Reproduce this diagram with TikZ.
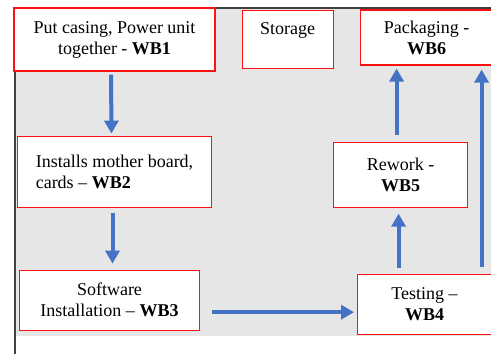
\documentclass[tikz,border=0pt]{standalone}
\usepackage{fontspec}
\setmainfont{Liberation Serif}
\usepackage{tikz}
\usepackage{xcolor}
\usetikzlibrary{arrows.meta, positioning}
\definecolor{flowblue}{HTML}{4472C4}
\definecolor{panelgray}{HTML}{E6E6E6}
\definecolor{framegray}{HTML}{404040}
\definecolor{boxred}{HTML}{FF1010}
\tikzstyle{station} = [rectangle, draw=boxred, fill=white, line width=1.1pt, inner sep=0pt, align=center, font=\fontsize{18}{21}\selectfont]
\tikzstyle{arrow} = [draw=flowblue, line width=4pt, -{Triangle[width=14pt, length=13pt]}]

\begin{document}
\begin{tikzpicture}[x=1pt, y=1pt]

            \useasboundingbox (0,0) rectangle (491,354);
            % Background
            \fill [panelgray] (14,18) rectangle (491,346);
            \draw [framegray, line width=2pt] (14,346) -- (491,346);
            \draw [framegray, line width=1.2pt] (15,0) -- (15,346);

            % Nodes
            \node (wb1) [station, minimum width=201pt, minimum height=63pt] at (114.5,314.5) {Put casing, Power unit\\together - \textbf{WB1}};
            \node (storage) [station, right=26pt of wb1, minimum width=91pt, minimum height=58pt] {Storage\\\mbox{}};

            \node (wb2) [station, below=64pt of wb1, align=left, minimum width=194pt, minimum height=71pt] {Installs mother board,\\cards -- \textbf{WB2}};

            \node (wb3) [station, below=62pt of wb2, xshift=-5pt, minimum width=180pt, minimum height=60pt] {Software\\Installation -- \textbf{WB3}};
            \node (wb4) [station, right=157pt of wb3, yshift=-4pt, minimum width=134pt, minimum height=60pt] {Testing --\\\textbf{WB4}};

            \node (wb5) [station, above=66pt of wb4, xshift=-24pt, minimum width=134pt, minimum height=65pt] {Rework -\\\textbf{WB5}};
            \node (wb6) [station, above=76pt of wb5, xshift=26pt, minimum width=132pt, minimum height=55pt] {Packaging -\\\textbf{WB6}};

            % Arrows
            \draw [arrow, shorten <=3pt, shorten >=2pt] ([xshift=-3.5pt]wb1.south) -- ([xshift=-3pt]wb2.north);
            \draw [arrow, shorten <=5pt, shorten >=6pt] ([xshift=-2pt]wb2.south) -- ([xshift=3pt]wb3.north);
            \draw [arrow, shorten <=12pt, shorten >=3pt] ([yshift=-12pt]wb3.east) -- ([yshift=-8pt]wb4.west);
            \draw [arrow, shorten <=6pt, shorten >=6pt] ([xshift=-26pt]wb4.north) -- ([xshift=-2pt]wb5.south);
            \draw [arrow, shorten <=7pt, shorten >=3pt] ([xshift=-4pt]wb5.north) -- ([xshift=-30pt]wb6.south);
            \draw [arrow, shorten <=7pt, shorten >=4pt] ([xshift=57pt]wb4.north) -- ([xshift=55pt]wb6.south);

\end{tikzpicture}
\end{document}
